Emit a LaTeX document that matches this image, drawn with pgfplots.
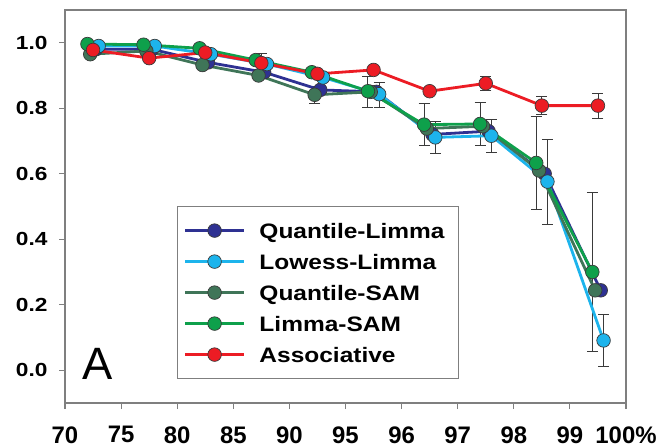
\documentclass[border=0pt]{standalone}
\usepackage{pgfplots}
\pgfplotsset{compat=1.18}
\usepackage{fontspec}
\setmainfont{Liberation Sans}
\newfontfamily\ylabfont[FakeStretch=1.2]{Liberation Sans}
\newfontfamily\legfont[FakeStretch=1.17]{Liberation Sans}

\definecolor{cQL}{HTML}{2E3192}
\definecolor{cLL}{HTML}{1DB4EC}
\definecolor{cQS}{HTML}{3F7558}
\definecolor{cLS}{HTML}{0EA04B}
\definecolor{cAS}{HTML}{EC1C24}
\definecolor{axgray}{HTML}{7F7F7F}
\definecolor{edgegray}{HTML}{3A3A3A}

\begin{document}
\begin{tikzpicture}
  \begin{axis}[
      name=ax,
      width=561bp, height=393bp, scale only axis,
      xmin=0, xmax=10, ymin=-0.1, ymax=1.1,
      xtick={0,1,2,3,4,5,6,7,8,9,10},
      xticklabels={70,75,80,85,90,95,96,97,98,99,100\%},
      ytick={0,0.2,0.4,0.6,0.8,1.0},
      yticklabels={0.0,0.2,0.4,0.6,0.8,1.0},
      xtick pos=lower, ytick pos=left,
      tick align=outside, major tick length=6bp,
      axis line style={draw=axgray, line width=1.1bp},
      tick style={draw=axgray, line width=1.1bp},
      xticklabel style={font=\bfseries\fontsize{24}{24}\selectfont, yshift=-14bp},
      yticklabel style={font=\ylabfont\bfseries\fontsize{19}{19}\selectfont, xshift=-8bp},
      clip=false,
      ser/.style={draw=#1, line width=2.8bp, mark=*,
        mark options={mark size=6.8bp, draw=edgegray, fill=#1, line width=0.7bp, solid}},
      legend image code/.code={
        \draw[mark repeat=2, mark phase=2]
          plot coordinates {(0bp,0bp) (29.5bp,0bp) (59bp,0bp)};},
      legend style={at={(0.2,0.501)}, anchor=north west,
        draw=axgray, line width=1bp,
        font=\legfont\bfseries\fontsize{21}{25}\selectfont,
        inner xsep=6bp, inner ysep=8.5bp, row sep=0pt, column sep=6bp,
        nodes={text height=18bp, text depth=3bp, inner ysep=5bp, inner xsep=8bp}},
      legend cell align=left,
      errbar/.style={draw=none, mark=none, forget plot,
        error bars/.cd, y dir=both, y explicit,
        error bar style={draw=edgegray, line width=0.9bp},
        error mark options={rotate=90, mark size=5.5bp, draw=edgegray, line width=0.9bp}},
    ]

    % error bars first, so the markers sit on top
    \addplot[errbar] coordinates {
      (3.5,0.938) +- (0,0.030) (7.5,0.876) +- (0,0.022)
      (8.5,0.808) +- (0,0.028) (9.5,0.808) +- (0,0.038)
    };
    \addplot[errbar] coordinates {
      (4.45,0.841) +- (0,0.026)
    };
    \addplot[errbar] coordinates {
      (5.4,0.850) +- (0,0.048) (6.4,0.750) +- (0,0.065) (7.4,0.752) +- (0,0.065)
      (8.4,0.633) +- (0,0.143) (9.4,0.300) +- (0,0.242)
    };
    \addplot[errbar] coordinates {
      (5.6,0.841) +- (0,0.038) (6.6,0.711) +- (0,0.050) (7.6,0.716) +- (0,0.050)
      (8.6,0.576) +- (0,0.130) (9.6,0.091) +- (0,0.080)
    };

    % Quantile-Limma
    \addplot[ser=cQL] coordinates {
      (0.55,0.980) (1.55,0.980) (2.55,0.940) (3.55,0.910) (4.55,0.856)
      (5.55,0.850) (6.55,0.720) (7.55,0.730) (8.55,0.600) (9.55,0.244)
    };
    \addlegendentry{Quantile-Limma}

    % Lowess-Limma
    \addplot[ser=cLL] coordinates {
      (0.6,0.990) (1.6,0.990) (2.6,0.965) (3.6,0.935) (4.6,0.894)
      (5.6,0.843) (6.6,0.711) (7.6,0.716) (8.6,0.576) (9.6,0.091)
    };
    \addlegendentry{Lowess-Limma}

    % Quantile-SAM
    \addplot[ser=cQS] coordinates {
      (0.45,0.965) (1.45,0.975) (2.45,0.932) (3.45,0.900) (4.45,0.841)
      (5.45,0.850) (6.45,0.738) (7.45,0.745) (8.45,0.610) (9.45,0.244)
    };
    \addlegendentry{Quantile-SAM}

    % Limma-SAM
    \addplot[ser=cLS] coordinates {
      (0.4,0.996) (1.4,0.994) (2.4,0.983) (3.4,0.947) (4.4,0.910)
      (5.4,0.852) (6.4,0.750) (7.4,0.752) (8.4,0.633) (9.4,0.300)
    };
    \addlegendentry{Limma-SAM}

    % Associative
    \addplot[ser=cAS] coordinates {
      (0.5,0.978) (1.5,0.953) (2.5,0.970) (3.5,0.938) (4.5,0.905)
      (5.5,0.917) (6.5,0.852) (7.5,0.876) (8.5,0.808) (9.5,0.808)
    };
    \addlegendentry{Associative}

    \node[anchor=base west, inner sep=0pt, font=\fontsize{45.5}{45.5}\selectfont]
      at (rel axis cs:0.0316,0.061) {A};
  \end{axis}
  \pgfresetboundingbox
  \path (ax.south west) ++(-65bp,-45bp) rectangle ++(659bp,448bp);
\end{tikzpicture}
\end{document}
